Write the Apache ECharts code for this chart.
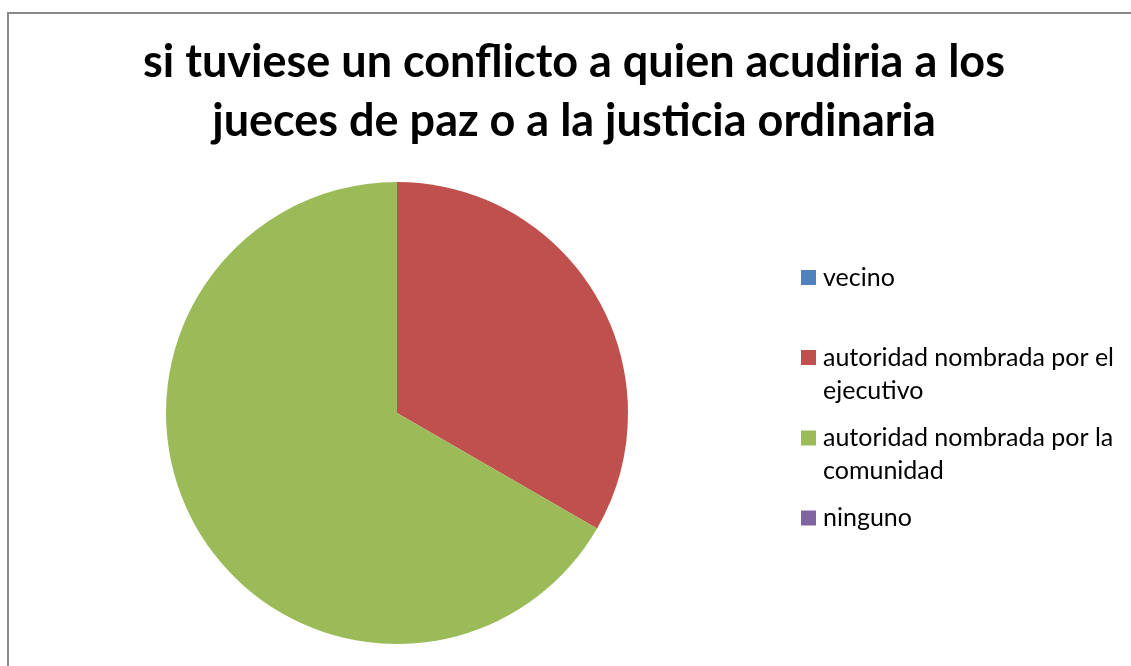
<!DOCTYPE html>
<html>
<head>
<meta charset="utf-8">
<script src="https://cdn.jsdelivr.net/npm/echarts@6/dist/echarts.min.js"></script>
<style>
    html, body { margin: 0; padding: 0; background: #fff; }
    #chart { width: 1131px; height: 666px; }
</style>
</head>
<body>
<div id="chart"></div>
<script>
// datos
const categories = ['vecino', 'autoridad nombrada por el ejecutivo', 'autoridad nombrada por la comunidad', 'ninguno'];
const legendLabels = ['vecino', 'autoridad nombrada por el\nejecutivo', 'autoridad nombrada por la\ncomunidad', 'ninguno'];
const values = [0, 1, 2, 0];
const colors = ['#4F81BD', '#C0504D', '#9BBB59', '#8064A2'];

const titleText = 'si tuviese un conflicto a quien acudiria a los\njueces de paz o a la justicia ordinaria';

// centro vertical del cuadrito de cada leyenda
const legendCenters = [277.5, 357.5, 438, 518];
const lineH = 33;
const box = 15;

const legends = categories.map((name, i) => {
    const twoLines = legendLabels[i].indexOf('\n') >= 0;
    // para dos lineas el cuadrito queda arriba, alineado con la primera linea
    const h = twoLines ? box + lineH : box;
    return {
        data: [name],
        orient: 'vertical',
        left: 801,
        top: legendCenters[i] - box / 2 - (lineH - box) / 2,
        padding: 0,
        itemWidth: box,
        itemHeight: h,
        icon: twoLines ? 'path://M0,0H15V15H0Z M0,' + h : 'rect',
        selectedMode: false,
        formatter: () => legendLabels[i],
        textStyle: {
            fontFamily: 'Lato',
            fontSize: 25,
            color: '#000',
            lineHeight: lineH,
            padding: [0, 0, 0, 2],
        },
    };
});

const chart = echarts.init(document.getElementById('chart'), null, { renderer: 'canvas' });
chart.setOption({
    animation: false,
    color: colors,
    title: {
        text: titleText,
        left: 574,
        textAlign: 'center',
        top: 33,
        padding: 0,
        textStyle: {
            fontFamily: 'Lato',
            fontWeight: 'bold',
            fontSize: 45,
            lineHeight: 59,
            color: '#000',
        },
    },
    graphic: [{
        type: 'rect',
        shape: { x: 8, y: 13, width: 1200, height: 700 },
        style: { fill: 'none', stroke: '#8a8a8a', lineWidth: 2 },
        silent: true,
        z: -1,
    }],
    legend: legends,
    series: [{
        type: 'pie',
        center: [397, 413],
        radius: 231,
        startAngle: 90,
        clockwise: true,
        label: { show: false },
        labelLine: { show: false },
        emphasis: { disabled: true },
        itemStyle: { borderWidth: 0 },
        data: categories.map((name, i) => ({ name: name, value: values[i] })),
    }],
});
</script>
</body>
</html>
